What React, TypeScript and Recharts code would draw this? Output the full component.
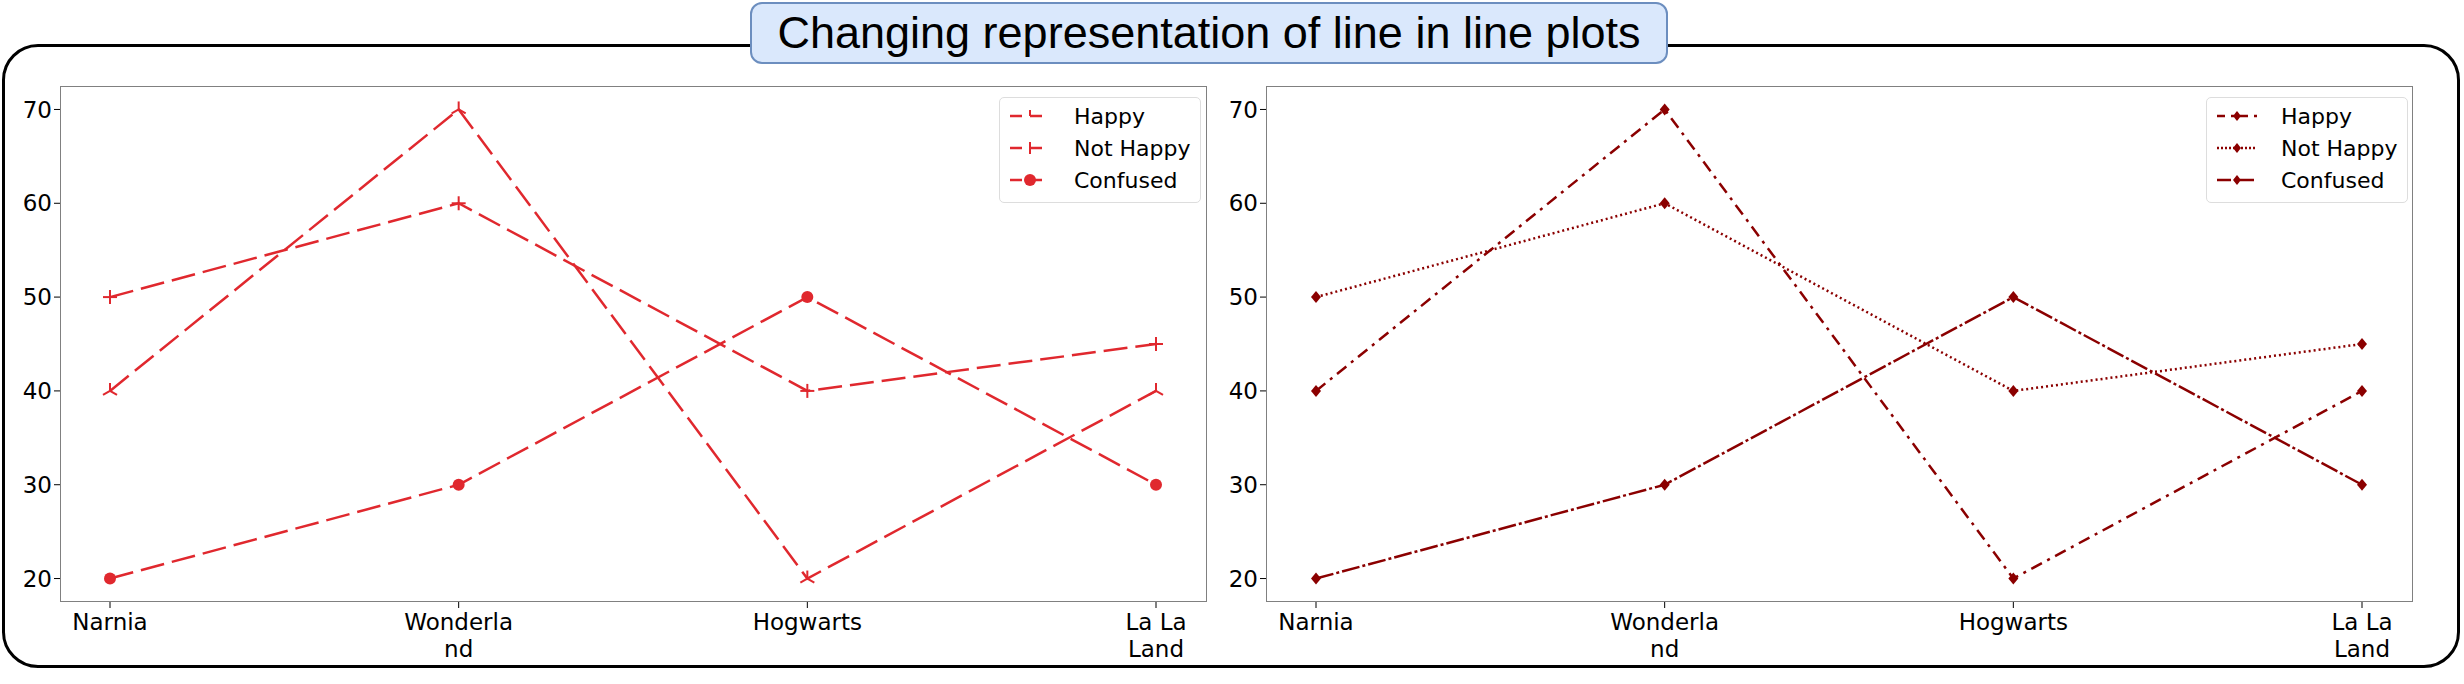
import { LineChart, Line, XAxis, YAxis } from "recharts";

const places = ["Narnia", "Wonderla\nnd", "Hogwarts", "La La\nLand"];
const happy = [40, 70, 20, 40];
const notHappy = [50, 60, 40, 45];
const confused = [20, 30, 50, 30];
const yTicks = [20, 30, 40, 50, 60, 70];

const data = places.map((p, i) => ({
  place: p,
  happy: happy[i],
  notHappy: notHappy[i],
  confused: confused[i],
}));

const RED = "#e0282e";
const DARK = "#8b0000";
const FONT = "DejaVu Sans, sans-serif";

const tri = (c: string) => (p: any) =>
  p.cx == null ? null : (
    <g key={p.index} stroke={c} strokeWidth={2}>
      <line x1={p.cx} y1={p.cy} x2={p.cx} y2={p.cy - 8} />
      <line x1={p.cx} y1={p.cy} x2={p.cx - 7} y2={p.cy + 4} />
      <line x1={p.cx} y1={p.cy} x2={p.cx + 7} y2={p.cy + 4} />
    </g>
  );
const plus = (c: string) => (p: any) =>
  p.cx == null ? null : (
    <g key={p.index} stroke={c} strokeWidth={2}>
      <line x1={p.cx - 7} y1={p.cy} x2={p.cx + 7} y2={p.cy} />
      <line x1={p.cx} y1={p.cy - 7} x2={p.cx} y2={p.cy + 7} />
    </g>
  );
const hexa = (c: string) => (p: any) =>
  p.cx == null ? null : <circle key={p.index} cx={p.cx} cy={p.cy} r={6} fill={c} />;
const diamond = (c: string) => (p: any) =>
  p.cx == null ? null : (
    <path
      key={p.index}
      d={`M${p.cx},${p.cy - 6}L${p.cx + 5},${p.cy}L${p.cx},${p.cy + 6}L${p.cx - 5},${p.cy}Z`}
      fill={c}
    />
  );

const XTick = (props: any) => {
  const { x, y, payload } = props;
  const lines = String(payload.value).split("\n");
  return (
    <text x={x} y={y + 20} textAnchor="middle" fontSize={23} fontFamily={FONT} fill="#000">
      {lines.map((l, i) => (
        <tspan key={i} x={x} dy={i === 0 ? 0 : 27}>
          {l}
        </tspan>
      ))}
    </text>
  );
};

type Legend = { label: string; dash: string; marker: string }[];

const LegendBox = ({ left, items, color }: { left: number; items: Legend; color: string }) => (
  <div
    style={{
      position: "absolute",
      left,
      top: 97,
      width: 200,
      height: 104,
      border: "1px solid #ddd",
      borderRadius: 5,
      background: "rgba(255,255,255,0.85)",
      fontFamily: FONT,
      fontSize: 22,
      whiteSpace: "nowrap",
    }}
  >
    {items.map((it, i) => (
      <div key={i} style={{ position: "absolute", top: 4 + i * 32, left: 8, display: "flex", alignItems: "center" }}>
        <svg width={44} height={28}>
          <line x1={2} y1={14} x2={42} y2={14} stroke={color} strokeWidth={2.5} strokeDasharray={it.dash} />
          {it.marker === "plus" && <g stroke={color} strokeWidth={2}><line x1={22} y1={8} x2={22} y2={20} /></g>}
          {it.marker === "tri" && <g stroke={color} strokeWidth={2}><line x1={22} y1={8} x2={22} y2={14} /></g>}
          {it.marker === "circle" && <circle cx={22} cy={14} r={6} fill={color} />}
          {it.marker === "diamond" && <path d="M22,9L26,14L22,19L18,14Z" fill={color} />}
        </svg>
        <span style={{ marginLeft: 22 }}>{it.label}</span>
      </div>
    ))}
  </div>
);

const Panel = ({ left, right }: { left: number; right: boolean }) => {
  const width = 1207 - 60 + 60 + 13;
  const c = right ? DARK : RED;
  return (
    <div style={{ position: "absolute", left: left - 60, top: 0, width, height: 684 }}>
      <div
        style={{
          position: "absolute",
          left: 60,
          top: 86,
          width: 1147,
          height: 516,
          border: "1.5px solid #808080",
          boxSizing: "border-box",
          background: "#fff",
        }}
      />
      <div style={{ position: "absolute", left: 0, top: 0 }}>
        <LineChart width={width} height={684} data={data} margin={{ top: 86, right: 13, left: 0, bottom: 0 }}>
          <XAxis
            dataKey="place"
            padding={{ left: 50, right: 51 }}
            axisLine={false}
            tickLine={{ stroke: "#000" }}
            tickSize={6}
            height={82}
            tick={<XTick />}
            interval={0}
          />
          <YAxis
            domain={[17.5, 72.5]}
            ticks={yTicks}
            axisLine={false}
            tickLine={{ stroke: "#000" }}
            tickSize={6}
            width={60}
            tick={{ fontSize: 23, fontFamily: FONT, fill: "#000" }}
          />
          <Line
            dataKey="happy"
            stroke={c}
            strokeWidth={right ? 2.5 : 2.5}
            strokeDasharray={right ? "12 6 3 6" : "24 8"}
            dot={right ? diamond(c) : tri(c)}
            isAnimationActive={false}
          />
          <Line
            dataKey="notHappy"
            stroke={c}
            strokeWidth={right ? 2.5 : 2.5}
            strokeDasharray={right ? "2 3" : "24 8"}
            dot={right ? diamond(c) : plus(c)}
            isAnimationActive={false}
          />
          <Line
            dataKey="confused"
            stroke={c}
            strokeWidth={right ? 2.5 : 2.5}
            strokeDasharray={right ? "18 3 3 3" : "24 8"}
            dot={right ? diamond(c) : hexa(c)}
            isAnimationActive={false}
          />
        </LineChart>
      </div>
    </div>
  );
};

export default function App() {
  return (
    <div style={{ position: "absolute", left: 0, top: 0, width: 2464, height: 684, background: "#fff", overflow: "hidden" }}>
      <div
        style={{
          position: "absolute",
          left: 2,
          top: 44,
          width: 2458,
          height: 624,
          border: "3px solid #000",
          borderRadius: 36,
          boxSizing: "border-box",
        }}
      />
      <Panel left={60} right={false} />
      <Panel left={1266} right={true} />
      <LegendBox
        left={999}
        color={RED}
        items={[
          { label: "Happy", dash: "12 8", marker: "tri" },
          { label: "Not Happy", dash: "12 8", marker: "plus" },
          { label: "Confused", dash: "12 8", marker: "circle" },
        ]}
      />
      <LegendBox
        left={2206}
        color={DARK}
        items={[
          { label: "Happy", dash: "8 6 3 6", marker: "diamond" },
          { label: "Not Happy", dash: "2 2", marker: "diamond" },
          { label: "Confused", dash: "14 3 3 3", marker: "diamond" },
        ]}
      />
      <div
        style={{
          position: "absolute",
          left: 750,
          top: 2,
          width: 918,
          height: 62,
          background: "#dae8fc",
          border: "2px solid #6c8ebf",
          borderRadius: 12,
          boxSizing: "border-box",
          display: "flex",
          alignItems: "center",
          justifyContent: "center",
          fontFamily: "Liberation Sans, Arial, sans-serif",
          fontSize: 45,
        }}
      >
        Changing representation of line in line plots
      </div>
    </div>
  );
}
